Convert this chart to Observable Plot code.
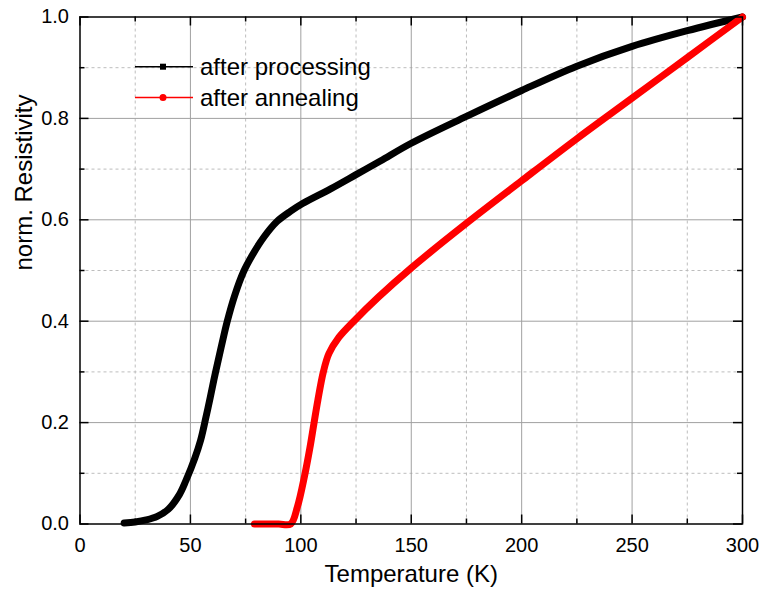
<!DOCTYPE html>
<html>
<head>
<meta charset="utf-8">
<script src="https://cdn.jsdelivr.net/npm/d3@7"></script>
<script src="https://cdn.jsdelivr.net/npm/@observablehq/plot@0.6"></script>
<style>
  html, body { margin: 0; padding: 0; background: #fff; }
  #chart { width: 761px; height: 599px; }
</style>
</head>
<body>
<div id="chart"></div>
<script>
// ---- data ----
const processingT = [20, 25, 30, 35, 40, 45, 48, 52, 54.6, 57, 59, 61.4, 64, 66.7, 70, 74, 78, 83.3, 89.3, 95.4, 100.8, 113.5, 125, 136, 150, 175, 200, 225, 250, 275, 300];
const processingR = [0.002, 0.004, 0.008, 0.015, 0.029, 0.058, 0.086, 0.13, 0.165, 0.21, 0.25, 0.3, 0.35, 0.4, 0.45, 0.497, 0.53, 0.566, 0.597, 0.617, 0.632, 0.661, 0.689, 0.716, 0.751, 0.804, 0.855, 0.903, 0.942, 0.973, 1.0];
const annealingT = [79, 85, 90, 95.4, 98.4, 101.7, 104.1, 106, 107.7, 110.2, 112.7, 117.2, 124, 135, 150, 175, 200, 225, 250, 275, 300];
const annealingR = [0.0, 0.0, 0.0, 0.0, 0.033, 0.095, 0.15, 0.2, 0.244, 0.3, 0.336, 0.368, 0.4, 0.447, 0.505, 0.593, 0.677, 0.76, 0.84, 0.92, 1.0];
const seriesNames = ["after processing", "after annealing"];
const seriesColors = ["#000000", "#ff0000"];
const xMajor = [0, 50, 100, 150, 200, 250, 300];
const xMinor = [25, 75, 125, 175, 225, 275];
const yMajor = [0.0, 0.2, 0.4, 0.6, 0.8, 1.0];
const yMinor = [0.1, 0.3, 0.5, 0.7, 0.9];

const processing = processingT.map((t, i) => ({T: t, R: processingR[i]}));
const annealing = annealingT.map((t, i) => ({T: t, R: annealingR[i]}));

const W = 761, H = 599;
const mL = 79.5, mR = 19, mT = 16.5, mB = 75.5;
const innerW = W - mL - mR, innerH = H - mT - mB;
const majLen = 9, minLen = 5;
const font = "'Liberation Sans', Arial, Helvetica, sans-serif";

const chart = Plot.plot({
  width: W,
  height: H,
  marginLeft: mL, marginRight: mR, marginTop: mT, marginBottom: mB,
  style: {fontFamily: font, background: "#fff", color: "#000"},
  x: {domain: [0, 300]},
  y: {domain: [0, 1]},
  marks: [
    // minor dashed grid
    Plot.gridX(xMinor, {stroke: "#bdbdbd", strokeOpacity: 1, strokeDasharray: "3,3", strokeWidth: 1}),
    Plot.gridY(yMinor, {stroke: "#bdbdbd", strokeOpacity: 1, strokeDasharray: "3,3", strokeWidth: 1}),
    // major solid grid
    Plot.gridX(xMajor.slice(1, -1), {stroke: "#a0a0a0", strokeOpacity: 1, strokeWidth: 1}),
    Plot.gridY(yMajor.slice(1, -1), {stroke: "#a0a0a0", strokeOpacity: 1, strokeWidth: 1}),
    // inward ticks: bottom & top
    Plot.ruleX(xMajor, {x: d => d, insetTop: innerH - majLen, stroke: "#000", strokeWidth: 1.5}),
    Plot.ruleX(xMajor, {x: d => d, insetBottom: innerH - majLen, stroke: "#000", strokeWidth: 1.5}),
    Plot.ruleX(xMinor, {x: d => d, insetTop: innerH - minLen, stroke: "#000", strokeWidth: 1.5}),
    Plot.ruleX(xMinor, {x: d => d, insetBottom: innerH - minLen, stroke: "#000", strokeWidth: 1.5}),
    // inward ticks: left & right
    Plot.ruleY(yMajor, {y: d => d, insetRight: innerW - majLen, stroke: "#000", strokeWidth: 1.5}),
    Plot.ruleY(yMajor, {y: d => d, insetLeft: innerW - majLen, stroke: "#000", strokeWidth: 1.5}),
    Plot.ruleY(yMinor, {y: d => d, insetRight: innerW - minLen, stroke: "#000", strokeWidth: 1.5}),
    Plot.ruleY(yMinor, {y: d => d, insetLeft: innerW - minLen, stroke: "#000", strokeWidth: 1.5}),
    // data
    Plot.line(processing, {x: "T", y: "R", stroke: seriesColors[0], strokeWidth: 7, curve: "catmull-rom"}),
    Plot.line(annealing, {x: "T", y: "R", stroke: seriesColors[1], strokeWidth: 7, curve: "catmull-rom"}),
    // frame
    Plot.frame({stroke: "#000", strokeWidth: 1.5}),
    // axes
    Plot.axisX(xMajor, {anchor: "bottom", tickSize: 0, tickPadding: 14, fontSize: 20, label: null, tickFormat: d => String(d)}),
    Plot.axisY(yMajor, {anchor: "left", tickSize: 0, tickPadding: 11, fontSize: 20, label: null, tickFormat: d3.format(".1f")}),
    Plot.text(["Temperature (K)"], {frameAnchor: "bottom", dy: 57.5, fontSize: 24, fill: "#000"}),
    Plot.text(["norm. Resistivity"], {frameAnchor: "left", dx: -56, rotate: -90, fontSize: 24, fill: "#000"})
  ]
});

// legend inside the plot area
const svg = d3.select(chart);
const legend = svg.append("g").attr("font-family", font).attr("font-size", 24).attr("text-anchor", "start");
seriesNames.forEach((name, i) => {
  const y = 66.7 + i * 30.8;
  legend.append("line").attr("x1", 135).attr("x2", 193).attr("y1", y).attr("y2", y)
    .attr("stroke", seriesColors[i]).attr("stroke-width", 1.5);
  if (i === 0) {
    legend.append("rect").attr("x", 163 - 3).attr("y", y - 3).attr("width", 6).attr("height", 6).attr("fill", seriesColors[i]);
  } else {
    legend.append("circle").attr("cx", 163).attr("cy", y).attr("r", 3.5).attr("fill", seriesColors[i]);
  }
  legend.append("text").attr("x", 200).attr("y", y).attr("dy", "0.35em").attr("text-anchor", "start").attr("fill", "#000").text(name);
});

document.getElementById("chart").appendChild(chart);
</script>
</body>
</html>
